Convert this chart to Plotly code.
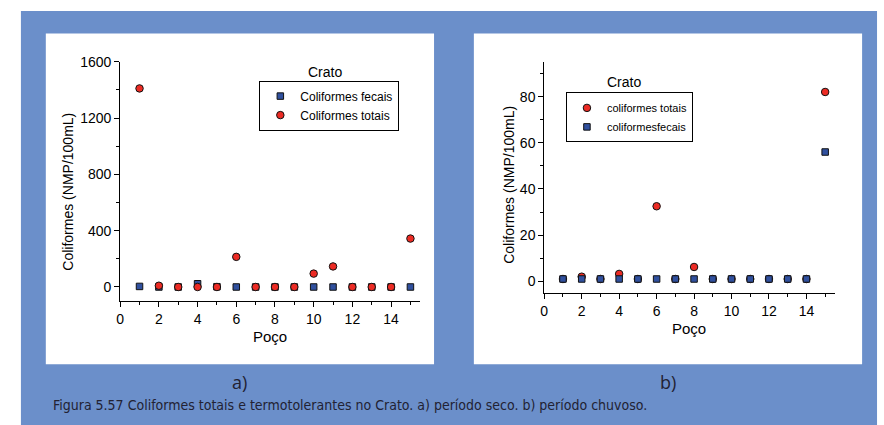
import plotly.graph_objects as go

W, H = 884, 425

# ---- data ----
poco = list(range(1, 16))
# a) dry period
a_fecais = [4, 0, 0, 23, 2, 0, 0, 0, 0, 0, 0, 0, 0, 0, 0]
a_totais = [1410, 9, 0, 0, 0, 214, 0, 0, 0, 95, 146, 0, 0, 0, 344]
# b) rainy period
b_totais = [1, 2, 1, 3.2, 1, 32.5, 1, 6.2, 1, 1, 1, 1, 1, 1, 82]
b_fecais = [1, 1, 1, 1, 1, 1, 1, 1, 1, 1, 1, 1, 1, 1, 56]

a_names = ["Coliformes fecais", "Coliformes totais"]
b_names = ["coliformes totais", "coliformesfecais"]
caption = "Figura 5.57 Coliformes totais e termotolerantes no Crato. a) período seco. b) período chuvoso."

RED = "#ec2b24"
BLUE = "#30509e"
FRAME = "#6b8fca"
TXT = "#222233"
FONT = "Liberation Sans, Arial, sans-serif"


def px(x):
    return x / W


def py(y):
    return 1 - y / H


fig = go.Figure()

mk_sq = dict(symbol="square", size=6.5, color=BLUE, line=dict(color="#111111", width=1))
mk_ci = dict(symbol="circle", size=7.5, color=RED, line=dict(color="#111111", width=1))

fig.add_trace(go.Scatter(x=poco, y=a_fecais, mode="markers", name=a_names[0], marker=mk_sq,
                         xaxis="x", yaxis="y", legend="legend"))
fig.add_trace(go.Scatter(x=poco, y=a_totais, mode="markers", name=a_names[1], marker=mk_ci,
                         xaxis="x", yaxis="y", legend="legend"))
fig.add_trace(go.Scatter(x=poco, y=b_totais, mode="markers", name=b_names[0], marker=mk_ci,
                         xaxis="x2", yaxis="y2", legend="legend2"))
fig.add_trace(go.Scatter(x=poco, y=b_fecais, mode="markers", name=b_names[1], marker=mk_sq,
                         xaxis="x2", yaxis="y2", legend="legend2"))

axis_common = dict(showline=True, linecolor="black", linewidth=1, ticks="outside", ticklen=5,
                   tickcolor="black", tickwidth=1, showgrid=False, zeroline=False,
                   tickfont=dict(family=FONT, size=14, color="black"), fixedrange=True)

fig.update_layout(
    width=W, height=H, autosize=False,
    margin=dict(l=0, r=0, t=0, b=0),
    paper_bgcolor="white", plot_bgcolor="rgba(0,0,0,0)",
    font=dict(family=FONT, color="black"),
    xaxis=dict(domain=[px(116.7), px(418)], range=[0, 15.5], dtick=2, tick0=0, anchor="y",
               minor=dict(ticks="outside", ticklen=3, dtick=1, tickcolor="black"), **axis_common),
    yaxis=dict(domain=[py(298.7), py(54.7)], range=[-100, 1600], dtick=400, tick0=0, anchor="x",
               minor=dict(ticks="outside", ticklen=3, dtick=200, tickcolor="black"), **axis_common),
    xaxis2=dict(domain=[px(542.7), px(834.3)], range=[0, 15.5], dtick=2, tick0=0, anchor="y2",
                minor=dict(ticks="outside", ticklen=3, dtick=1, tickcolor="black"), **axis_common),
    yaxis2=dict(domain=[py(290.3), py(55)], range=[-5, 95], dtick=20, tick0=0, anchor="x2",
                minor=dict(ticks="outside", ticklen=3, dtick=10, tickcolor="black"), **axis_common),
    legend=dict(x=px(256.5), y=py(74), xanchor="left", yanchor="top", bgcolor="white",
                bordercolor="black", borderwidth=1, font=dict(family=FONT, size=12, color="black"),
                tracegroupgap=0, itemwidth=30),
    legend2=dict(x=px(564.5), y=py(86), xanchor="left", yanchor="top", bgcolor="white",
                 bordercolor="black", borderwidth=1, font=dict(family=FONT, size=11, color="black"),
                 tracegroupgap=0, itemwidth=30),
    showlegend=True,
    shapes=[
        dict(type="rect", xref="paper", yref="paper", x0=px(17), x1=px(877), y0=0, y1=py(3),
             fillcolor=FRAME, line=dict(width=0), layer="below"),
        dict(type="rect", xref="paper", yref="paper", x0=px(42), x1=px(432), y0=py(363), y1=py(26),
             fillcolor="white", line=dict(width=0), layer="below"),
        dict(type="rect", xref="paper", yref="paper", x0=px(472), x1=px(862), y0=py(363), y1=py(26),
             fillcolor="white", line=dict(width=0), layer="below"),
    ],
)

ann = []


def add_text(x, y, text, size, color="black", family=FONT, angle=0, xanchor="center"):
    ann.append(dict(x=px(x), y=py(y), xref="paper", yref="paper", text=text, showarrow=False,
                    textangle=angle, xanchor=xanchor, yanchor="middle",
                    font=dict(family=family, size=size, color=color)))


add_text(64.5, 187, "Coliformes (NMP/100mL)", 14, angle=-90)
add_text(267.5, 335, "Poço", 15)
add_text(322, 65, "Crato", 14)
add_text(506.5, 180, "Coliformes (NMP/100mL)", 14, angle=-90)
add_text(688, 326.5, "Poço", 15)
add_text(622.5, 75.5, "Crato", 14)
add_text(237, 381.5, "a)", 18, color=TXT, family="Open Sans, Noto Sans, sans-serif")
add_text(667, 381.5, "b)", 18, color=TXT, family="Open Sans, Noto Sans, sans-serif")
add_text(47, 405, caption, 14, color=TXT,
         family="Liberation Sans Narrow, DejaVu Sans Condensed, Arial Narrow, sans-serif",
         xanchor="left")

fig.update_layout(annotations=ann)

fig.write_html("out.html", config={"displayModeBar": False, "staticPlot": True},
               post_script="document.body.style.margin='0';")
